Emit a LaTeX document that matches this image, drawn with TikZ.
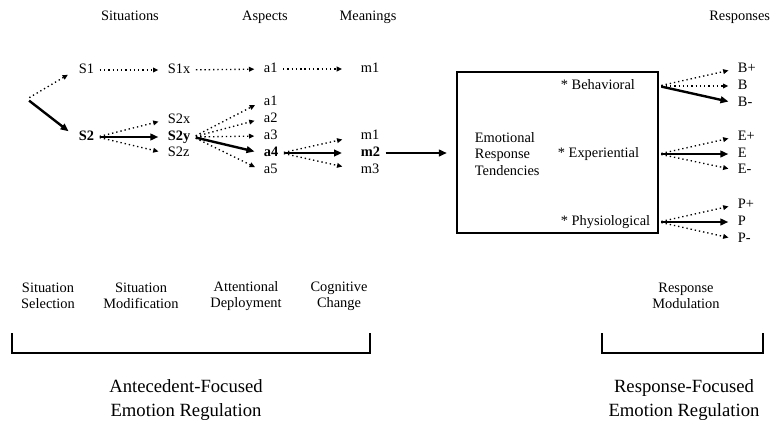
\documentclass[tikz,border=0pt]{standalone}
\usepackage{fontspec}
\setmainfont{Liberation Serif}
\usetikzlibrary{arrows.meta,positioning,calc}

\begin{document}
\begin{tikzpicture}[x=0.75pt,y=-0.75pt,
  lbl/.style={inner sep=2pt,text height=1.5ex,text depth=0.3ex,font=\fontsize{10.8}{12}\selectfont},
  dots/.style={line width=1pt,dash pattern=on 1pt off 2.2pt,shorten <=2pt,shorten >=5pt,-{Triangle[length=4pt,width=3.5pt]}},
  heavy/.style={line width=1.8pt,shorten <=2pt,shorten >=5pt,-{Triangle[length=6pt,width=5pt]}},
  stage/.style={align=center,font=\fontsize{10.8}{12}\selectfont},
  focus/.style={align=center,font=\fontsize{14}{18}\selectfont},
  bracket/.style={line width=1.8pt}]
\useasboundingbox (0,0) rectangle (771,422);

% column heads
\node[lbl] (hSit) at (130,17) {Situations};
\node[lbl] (hAsp) at (265,17) {Aspects};
\node[lbl] (hMean) at (368,17) {Meanings};
\node[lbl,anchor=east,inner sep=0.5pt] (hResp) at (771,17) {Responses};

% situations
\coordinate (root) at (27,99);
\node[lbl,anchor=west] (S1) at (76,70) {S1};
\node[lbl,anchor=west] (S2) at (76,137) {\bfseries S2};
\node[lbl,anchor=west] (S1x) at (165,70) {S1x};
\node[lbl,anchor=west] (S2x) at (165,120) {S2x};
\node[lbl,anchor=west] (S2y) at (165,137) {\bfseries S2y};
\node[lbl,anchor=west] (S2z) at (165,153) {S2z};

% aspects
\node[lbl,anchor=west] (aT) at (261,69) {a1};
\node[lbl,anchor=west] (a1) at (261,102) {a1};
\node[lbl,anchor=west] (a2) at (261,119) {a2};
\node[lbl,anchor=west] (a3) at (261,136) {a3};
\node[lbl,anchor=west] (a4) at (261,153) {\bfseries a4};
\node[lbl,anchor=west] (a5) at (261,170) {a5};

% meanings
\node[lbl,anchor=west] (mT) at (358,69) {m1};
\node[lbl,anchor=west] (m1) at (358,136) {m1};
\node[lbl,anchor=west] (m2) at (358,153) {\bfseries m2};
\node[lbl,anchor=west] (m3) at (358,170) {m3};

\draw[dots,shorten >=7pt] (root) -- (S1.west);
\draw[heavy,shorten >=7pt] (root) -- (S2.west);
\draw[dots] (S1) -- (S1x);
\draw[dots] (S1x) -- (aT);
\draw[dots,shorten >=12pt] (aT) -- (mT);
\draw[dots] (S2.east) -- (S2x.west);
\draw[heavy] (S2.east) -- (S2y.west);
\draw[dots] (S2.east) -- (S2z.west);
\draw[dots] (S2y.east) -- (a1.west);
\draw[dots] (S2y.east) -- (a2.west);
\draw[dots] (S2y.east) -- (a3.west);
\draw[heavy] (S2y.east) -- (a4.west);
\draw[dots] (S2y.east) -- (a5.west);
\draw[dots,shorten >=12pt] (a4.east) -- (m1.west);
\draw[heavy,shorten >=12pt] (a4.east) -- (m2.west);
\draw[dots,shorten >=12pt] (a4.east) -- (m3.west);

% response tendencies
\node[draw,line width=1.2pt,minimum width=150.75pt,minimum height=120.75pt] (ert) at (557.5,152.5) {};
\node[align=left,anchor=west,inner sep=2pt,font=\fontsize{10.8}{12.4}\selectfont] (tend) at (472,154) {Emotional\\Response\\Tendencies};
\node[lbl,anchor=west] (beh) at (558,86) {* Behavioral};
\node[lbl,anchor=west] (exp) at (555,154) {* Experiential};
\node[lbl,anchor=west] (phy) at (558,222) {* Physiological};
\draw[heavy,shorten >=7pt] (m2.east) -- (m2.east -| ert.west);

\coordinate (bOut) at (ert.east |- beh);
\coordinate (eOut) at (ert.east |- exp);
\coordinate (pOut) at (ert.east |- phy);

% responses
\node[lbl,anchor=west] (Bp) at (735,69) {B+};
\node[lbl,anchor=west] (B) at (735,86) {B};
\node[lbl,anchor=west] (Bm) at (735,103) {B-};
\node[lbl,anchor=west] (Ep) at (735,137) {E+};
\node[lbl,anchor=west] (E) at (735,154) {E};
\node[lbl,anchor=west] (Em) at (735,170) {E-};
\node[lbl,anchor=west] (Pp) at (735,205) {P+};
\node[lbl,anchor=west] (P) at (735,222) {P};
\node[lbl,anchor=west] (Pm) at (735,239) {P-};

\draw[dots] (bOut) -- (Bp.west);
\draw[dots] (bOut) -- (B.west);
\draw[heavy] (bOut) -- (Bm.west);
\draw[dots] (eOut) -- (Ep.west);
\draw[heavy] (eOut) -- (E.west);
\draw[dots] (eOut) -- (Em.west);
\draw[dots] (pOut) -- (Pp.west);
\draw[heavy] (pOut) -- (P.west);
\draw[dots] (pOut) -- (Pm.west);

% strategies
\node[stage] (selSit) at (48,296) {Situation\\Selection};
\node[stage] (modSit) at (141,296) {Situation\\Modification};
\node[stage] (attDep) at (246,296) {Attentional\\Deployment};
\node[stage] (cogCh) at (339,296) {Cognitive\\Change};
\node[stage] (respMod) at (686,296) {Response\\Modulation};

\draw[bracket] (12,333) |- (370,353) -- (370,333);
\draw[bracket] (602,333) |- (763,353) -- (763,333);

\node[focus] (antFoc) at (186,400) {Antecedent-Focused\\Emotion Regulation};
\node[focus] (respFoc) at (684,400) {Response-Focused\\Emotion Regulation};
\end{tikzpicture}
\end{document}
